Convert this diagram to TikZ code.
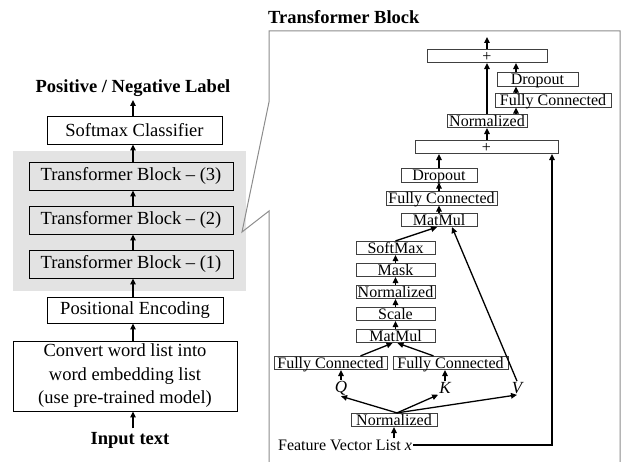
\documentclass[tikz,border=0pt]{standalone}
\usepackage{fontspec}
\setmainfont{Liberation Serif}
\usetikzlibrary{arrows.meta}
\begin{document}
\begin{tikzpicture}[x=1pt,y=-1pt,
  big/.style={draw,line width=0.9pt,inner sep=0pt,font=\fontsize{18.5}{23.5}\selectfont},
  sm/.style={draw=black!75,line width=0.7pt,inner sep=0pt,minimum height=13.5,text height=10.5pt,text depth=0pt,font=\fontsize{16}{16}\selectfont},
  hd/.style={font=\bfseries\fontsize{18.5}{22}\selectfont},
  lt/.style={inner sep=1pt,font=\itshape\fontsize{17}{17}\selectfont},
  arr/.style={-{Triangle[length=6pt,width=5.5pt]},line width=1.3pt}]
\useasboundingbox (0,0) rectangle (627,462);
% left column
\fill[black!11] (13,151) rectangle (246,291);
\node[hd] (lab) at (133,88) {Positive / Negative Label};
\node[big,minimum width=175,minimum height=28] (soft) at (134.5,130) {Softmax Classifier};
\node[big,minimum width=204,minimum height=28] (tb3) at (131,176) {Transformer Block -- (3)};
\node[big,minimum width=204,minimum height=28] (tb2) at (131,220) {Transformer Block -- (2)};
\node[big,minimum width=204,minimum height=28] (tb1) at (131,264) {Transformer Block -- (1)};
\node[big,minimum width=176,minimum height=26] (pe) at (135,310) {Positional Encoding};
\node[big,minimum width=224,minimum height=70,align=center] (conv) at (125,376)
  {Convert word list into\\word embedding list\\(use pre-trained model)};
\node[hd] (inp) at (130,440) {Input text};
\draw[arr] (inp.north-|lab) -- (conv.south-|lab);
\draw[arr] (conv.north-|lab) -- (pe.south-|lab);
\draw[arr] (pe.north-|lab) -- (tb1.south-|lab);
\draw[arr] (tb1.north-|lab) -- (tb2.south-|lab);
\draw[arr] (tb2.north-|lab) -- (tb3.south-|lab);
\draw[arr] (tb3.north-|lab) -- (soft.south-|lab);
\draw[arr] (soft.north-|lab) -- (lab.south);
% zoomed block
\node[hd,anchor=west,inner sep=0pt] (ttl) at (268,17) {Transformer Block};
\draw[black!45,line width=1pt] (269,462) -- (269,211) -- (242,232) -- (269,102) -- (269,31) -- (620,31) -- (620,462);
\coordinate (cA) at (487,0);
\coordinate (cB) at (516,0);
\coordinate (cC) at (439,0);
\coordinate (cD) at (396,0);
\coordinate (cE) at (552,0);
\coordinate (out) at (487,37);
\node[sm,minimum width=120] (pT) at (487,56) {+};
\node[sm,minimum width=81] (dT) at (537.5,79.5) {Dropout};
\node[sm,minimum width=116] (fT) at (553,100.5) {Fully Connected};
\node[sm,minimum width=80] (nT) at (487,121) {Normalized};
\node[sm,minimum width=143] (pM) at (486.5,147) {+};
\node[sm,minimum width=76] (dM) at (439,175.5) {Dropout};
\node[sm,minimum width=111] (fM) at (441.5,198.5) {Fully Connected};
\node[sm,minimum width=76] (mT) at (439,220) {MatMul};
\node[sm,minimum width=79] (sX) at (395.5,248) {SoftMax};
\node[sm,minimum width=79] (mk) at (395.5,270) {Mask};
\node[sm,minimum width=79] (nM) at (395.5,292) {Normalized};
\node[sm,minimum width=79] (sc) at (395.5,314) {Scale};
\node[sm,minimum width=79] (mB) at (395.5,336) {MatMul};
\node[sm,minimum width=113] (fQ) at (330.5,363) {Fully Connected};
\node[sm,minimum width=115] (fK) at (450.5,363) {Fully Connected};
\node[lt] (Q) at (341,388) {Q};
\node[lt] (K) at (445,388) {K};
\node[lt] (V) at (517,388) {V};
\node[sm,minimum width=86] (nB) at (394,420) {Normalized};
\node[inner sep=1pt,font=\fontsize{16}{16}\selectfont] (fv) at (345,445) {Feature Vector List \textit{x}};
\draw[arr] (pT.north) -- (out);
\draw[arr] (nT.north) -- (pT.south);
\draw[arr] (pM.north-|cA) -- (nT.south);
\draw[arr] (nT.north-|cB) -- (fT.south-|cB);
\draw[arr] (fT.north-|cB) -- (dT.south-|cB);
\draw[arr] (dT.north-|cB) -- (pT.south-|cB);
\draw[arr] (dM.north) -- (pM.south-|cC);
\draw[arr] (fM.north-|cC) -- (dM.south);
\draw[arr] (mT.north) -- (fM.south-|cC);
\draw[arr] (sX.north) -- ([xshift=-2]mT.south);
\draw[arr] (V.north) -- ([xshift=13]mT.south);
\draw[arr] (mk.north) -- (sX.south);
\draw[arr] (nM.north) -- (mk.south);
\draw[arr] (sc.north) -- (nM.south);
\draw[arr] (mB.north) -- (sc.south);
\draw[arr] ([xshift=30]fQ.north) -- ([xshift=-3]mB.south);
\draw[arr] ([xshift=-17]fK.north) -- ([xshift=2]mB.south);
\draw[arr] (Q.north) -- (Q.north|-fQ.south);
\draw[arr] (K.north) -- (K.north|-fK.south);
\draw[arr] ([xshift=3]nB.north) -- (Q.south);
\draw[arr] ([xshift=3]nB.north) -- (K.south west);
\draw[arr] ([xshift=3]nB.north) -- (V.south);
\draw[arr] (fv.north-|nB) -- (nB.south);
\draw[arr] (fv.east) -- (fv.east-|cE) -- (pM.south-|cE);
\end{tikzpicture}
\end{document}
